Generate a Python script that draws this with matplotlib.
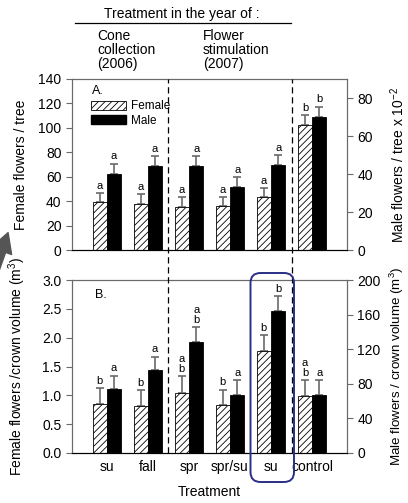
import matplotlib
matplotlib.use("Agg")
import matplotlib.pyplot as plt
from matplotlib.lines import Line2D
from matplotlib.patches import FancyBboxPatch, FancyArrowPatch, Patch
from matplotlib.transforms import blended_transform_factory

plt.rcParams['font.family'] = ['Liberation Sans', 'DejaVu Sans']
plt.rcParams['mathtext.default'] = 'regular'
plt.rcParams['hatch.linewidth'] = 0.6

# --- Data ---
treatments = ['su', 'fall', 'spr', 'spr/su', 'su', 'control']

# panel A: flowers per tree
a_female = [39, 38, 35.5, 36, 43.5, 102]
a_female_err = [8, 8, 8, 7.5, 7.5, 8.5]
a_male = [40, 44, 44, 33, 45, 70]          # x 10^-2, right axis
a_male_err = [5.5, 5.5, 5.5, 5.5, 5, 5.5]
a_female_lbl = ['a', 'a', 'a', 'a', 'a', 'b']
a_male_lbl = ['a', 'a', 'a', 'a', 'a', 'b']

# panel B: flowers per crown volume
b_female = [0.85, 0.81, 1.04, 0.83, 1.77, 0.98]
b_female_err = [0.28, 0.28, 0.29, 0.27, 0.27, 0.28]
b_male = [73.5, 95.5, 128.5, 67, 164.5, 67]  # right axis
b_male_err = [16, 16, 17, 17, 16.5, 17.5]
b_female_lbl = ['b', 'b', 'a\nb', 'b', 'b', 'a\nb']
b_male_lbl = ['a', 'a', 'a\nb', 'a', 'b', 'a']

W, H = 408, 503
fig = plt.figure(figsize=(W / 100, H / 100), dpi=100)

def fx(x):
    return x / W

def fy(y):
    return 1 - y / H

axA = fig.add_axes([fx(72), fy(250), fx(275), 171 / H])
axB = fig.add_axes([fx(72), fy(453), fx(275), 173 / H])
axA2 = axA.twinx()
axB2 = axB.twinx()

x = list(range(len(treatments)))
bw = 0.35
xf = [i - bw / 2 for i in x]
xm = [i + bw / 2 for i in x]
grey = '#6a6a6a'
ekw = dict(ecolor=grey, elinewidth=1.2, capsize=3, capthick=1.2)


def panel(ax, ax2, fem, fem_err, mal, mal_err, flbl, mlbl):
    ax.bar(xf, fem, bw, color='white', edgecolor='black', hatch='/////',
           linewidth=0.6, zorder=2)
    ax.errorbar(xf, fem, yerr=[[0] * len(fem), fem_err], fmt='none', zorder=1, **ekw)
    ax2.bar(xm, mal, bw, color='black', edgecolor='black', linewidth=0.6, zorder=2)
    ax2.errorbar(xm, mal, yerr=[[0] * len(mal), mal_err], fmt='none', zorder=1, **ekw)
    for xi, v, e, t in zip(xf, fem, fem_err, flbl):
        ax.annotate(t, (xi, v + e), xytext=(0, 1.5), textcoords='offset points',
                    ha='center', va='bottom', fontsize=8, linespacing=1.05)
    for xi, v, e, t in zip(xm, mal, mal_err, mlbl):
        ax2.annotate(t, (xi, v + e), xytext=(0, 1.5), textcoords='offset points',
                     ha='center', va='bottom', fontsize=8, linespacing=1.05)


panel(axA, axA2, a_female, a_female_err, a_male, a_male_err, a_female_lbl, a_male_lbl)
panel(axB, axB2, b_female, b_female_err, b_male, b_male_err, b_female_lbl, b_male_lbl)

for ax in (axA, axB, axA2, axB2):
    ax.set_xlim(-0.85, 5.85)
    for s in ('left', 'right', 'top'):
        ax.spines[s].set_color(grey)
    ax.spines['bottom'].set_color('black')
    ax.tick_params(axis='y', direction='out', length=4, color=grey,
                   labelsize=10, width=0.8)

axA.set_ylim(0, 140)
axA.set_yticks(range(0, 141, 20))
axA2.set_ylim(0, 90)
axA2.set_yticks(range(0, 81, 20))
axB.set_ylim(0, 3.0)
axB.set_yticks([0, 0.5, 1.0, 1.5, 2.0, 2.5, 3.0])
axB.set_yticklabels(['%.1f' % v for v in axB.get_yticks()])
axB2.set_ylim(0, 200)
axB2.set_yticks(range(0, 201, 40))

axA.set_xticks([])
axA2.set_xticks([])
axB.set_xticks(x)
axB.set_xticklabels(treatments, fontsize=10)
axB.tick_params(axis='x', length=0, pad=5)
axB.set_xlabel('Treatment', fontsize=10, labelpad=8)

axA.set_ylabel('Female flowers / tree', fontsize=10)
axA.yaxis.set_label_coords(-0.16, 0.5)
axB.set_ylabel('Female flowers /crown volume (m$^3$)', fontsize=10)
axB.yaxis.set_label_coords(-0.16, 0.5)
axA2.set_ylabel('Male flowers / tree x 10$^{-2}$', fontsize=10, rotation=90)
axA2.yaxis.set_label_coords(1.152, 0.5)
axB2.set_ylabel('Male flowers / crown volume (m$^3$)', fontsize=9.6, rotation=90)
axB2.yaxis.set_label_coords(1.148, 0.5)

# panel tags and legend
axA.text(0.073, 0.93, 'A.', transform=axA.transAxes, fontsize=9, va='center')
axB.text(0.084, 0.913, 'B.', transform=axB.transAxes, fontsize=9, va='center')
handles = [Patch(facecolor='white', edgecolor='black', hatch='/////', linewidth=0.6),
           Patch(facecolor='black', edgecolor='black')]
axA2.legend(handles, ['Female', 'Male'], loc='upper left', bbox_to_anchor=(0.069, 0.875),
            frameon=False, fontsize=8.5, handlelength=3.0, handleheight=0.8,
            handletextpad=0.4, labelspacing=0.2, borderaxespad=0, borderpad=0)

# dashed separators across both panels
trans = blended_transform_factory(axA.transData, fig.transFigure)
for xv in (1.5, 4.5):
    fig.add_artist(Line2D([xv, xv], [fy(453), fy(79)], transform=trans,
                          color='black', lw=0.9, ls=(0, (5, 3)), zorder=5))

# header
fig.text(fx(182), fy(14), 'Treatment in the year of :', ha='center', va='center', fontsize=10)
fig.add_artist(Line2D([fx(75), fx(291)], [fy(23), fy(23)], color='black', lw=0.9))
fig.text(fx(97), fy(29), 'Cone\ncollection\n(2006)', ha='left', va='top',
         fontsize=10, linespacing=1.0)
fig.text(fx(203), fy(29), 'Flower\nstimulation\n(2007)', ha='left', va='top',
         fontsize=10, linespacing=1.0)

# highlight box around flower stimulation "su"
box = FancyBboxPatch((250.5 / 100, (H - 482) / 100), 43.5 / 100, 209 / 100,
                     boxstyle='round,pad=0,rounding_size=0.1',
                     transform=fig.dpi_scale_trans, facecolor='none',
                     edgecolor='#2b2f86', lw=1.4, zorder=10)
fig.add_artist(box)

# grey arrow at left edge
fig.add_artist(FancyArrowPatch(
    (-6, H - 272), (9, H - 230), transform=None,
    arrowstyle='simple,head_width=1.1,head_length=1.0,tail_width=0.45',
    mutation_scale=14, color='#555555'))

fig.savefig('out.png', dpi=100)
